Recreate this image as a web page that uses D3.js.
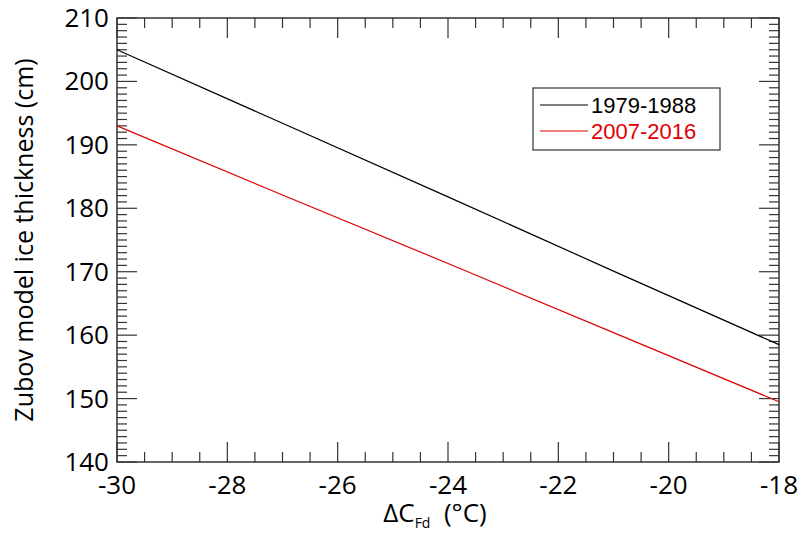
<!DOCTYPE html>
<html><head><meta charset="utf-8">
<script src="https://cdn.jsdelivr.net/npm/d3@7"></script>
<style>body{margin:0;background:#fff}</style>
</head><body><div class="canva"></div>
<script>
// data
const dcfd = [-30, -27, -24, -21, -18];
const ice7988 = [205.0, 193.4, 181.8, 170.1, 158.5];
const ice0716 = [193.0, 182.1, 171.3, 160.4, 149.5];
const xTicks = [-30, -28, -26, -24, -22, -20, -18];
const yTicks = [140, 150, 160, 170, 180, 190, 200, 210];

const L = 117, R = 779, T = 18, B = 462;
const svg = d3.select(".canva").append("svg").attr("width", 802).attr("height", 536);
const x = d3.scaleLinear().domain([-30, -18]).range([L, R]);
const y = d3.scaleLinear().domain([140, 210]).range([B, T]);
const font = "'Open Sans', 'Noto Sans', sans-serif";

//ticks: major and minor on all four sides
const g = svg.append("g").attr("stroke", "#333").attr("stroke-width", 1.2);
d3.range(-30, -17.9, 0.5).forEach(v => {
  const major = Math.abs(v % 2) < 1e-6, len = major ? 20 : 10;
  g.append("line").attr("x1", x(v)).attr("x2", x(v)).attr("y1", B).attr("y2", B - len);
  g.append("line").attr("x1", x(v)).attr("x2", x(v)).attr("y1", T).attr("y2", T + len);
});
d3.range(140, 210.1, 1).forEach(v => {
  const major = v % 10 === 0, len = major ? 20 : 10;
  g.append("line").attr("y1", y(v)).attr("y2", y(v)).attr("x1", L).attr("x2", L + len);
  g.append("line").attr("y1", y(v)).attr("y2", y(v)).attr("x1", R).attr("x2", R - len);
});
svg.append("rect").attr("x", L).attr("y", T).attr("width", R - L).attr("height", B - T)
   .attr("fill", "none").attr("stroke", "#333").attr("stroke-width", 1.5);

//tick labels
svg.selectAll(".xl").data(xTicks).enter().append("text")
   .text(d => d).attr("x", d => x(d)).attr("y", B + 32).attr("text-anchor", "middle")
   .attr("font-family", font).attr("font-size", 26);
svg.selectAll(".yl").data(yTicks).enter().append("text")
   .text(d => d).attr("x", L - 8).attr("y", d => y(d) + 9).attr("text-anchor", "end")
   .attr("font-family", font).attr("font-size", 26);

//axis titles
const xt = svg.append("text").attr("x", 435).attr("y", 522).attr("text-anchor", "middle")
   .attr("font-family", font).attr("font-size", 26).attr("xml:space", "preserve");
xt.append("tspan").text("ΔC");
xt.append("tspan").text("Fd").attr("font-size", 14).attr("dy", 6);
xt.append("tspan").text("  (°C)").attr("dy", -6);
svg.append("text").text("Zubov model ice thickness (cm)")
   .attr("transform", `translate(33,${(T + B) / 2}) rotate(-90)`).attr("text-anchor", "middle")
   .attr("font-family", font).attr("font-size", 25);

//lines
const line = vals => d3.line().x((d, i) => x(dcfd[i])).y(d => y(d))(vals);
svg.append("path").attr("d", line(ice7988)).attr("fill", "none").attr("stroke", "#000").attr("stroke-width", 1.2);
svg.append("path").attr("d", line(ice0716)).attr("fill", "none").attr("stroke", "#e00000").attr("stroke-width", 1.2);

//legend
svg.append("rect").attr("x", 533).attr("y", 88).attr("width", 187).attr("height", 62)
   .attr("fill", "#fff").attr("stroke", "#333").attr("stroke-width", 1.2);
[["1979-1988", "#000"], ["2007-2016", "#e00000"]].forEach((d, i) => {
  svg.append("line").attr("x1", 540).attr("x2", 588).attr("y1", 105 + i * 26).attr("y2", 105 + i * 26)
     .attr("stroke", d[1]).attr("stroke-width", 1.2);
  svg.append("text").text(d[0]).attr("x", 591).attr("y", 113 + i * 26)
     .attr("font-family", "'Liberation Sans', Arial, sans-serif").attr("font-size", 22).attr("fill", d[1]);
});
</script></body></html>
